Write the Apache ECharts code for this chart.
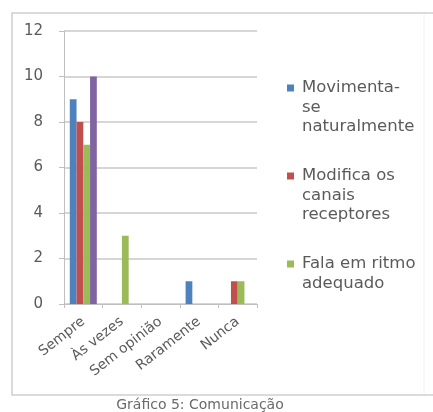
<!DOCTYPE html>
<html>
<head>
<meta charset="utf-8">
<script src="https://cdn.jsdelivr.net/npm/echarts@6/dist/echarts.min.js"></script>
<style>
  html, body { margin: 0; padding: 0; background: #fff; }
  #chart { width: 433px; height: 412px; }
</style>
</head>
<body>
<div id="chart"></div>
<script>
// categorias e valores
var categories = ['Sempre', 'Às vezes', 'Sem opinião', 'Raramente', 'Nunca'];
var seriesNames = ['Movimenta-se naturalmente', 'Modifica os canais receptores', 'Fala em ritmo adequado', 'Outro'];
var legendLines = [['Movimenta-', 'se', 'naturalmente'], ['Modifica os', 'canais', 'receptores'], ['Fala em ritmo', 'adequado']];
var movimenta = [9, 0, 0, 1, 0];
var modifica = [8, 0, 0, 0, 1];
var fala = [7, 3, 0, 0, 1];
var outro = [10, 0, 0, 0, 0];
var yTicks = [0, 2, 4, 6, 8, 10, 12];
var colors = ['#4F81BD', '#C0504D', '#9BBB59', '#8064A2'];

var txtColor = '#5a5a5a';
var font = 'DejaVu Sans';

var values = [movimenta, modifica, fala, outro];
var series = [];
for (var i = 0; i < values.length; i++) {
    series.push({
        name: seriesNames[i],
        type: 'bar',
        data: values[i],
        barGap: '0%',
        barCategoryGap: '30%',
        itemStyle: { color: colors[i] }
    });
}

// moldura (aberta à direita) + legenda desenhada à mão
var graphics = [{
    type: 'polyline',
    shape: { points: [[433, 13], [12, 13], [12, 395], [433, 395]] },
    style: { fill: 'none', stroke: '#cfcfcf', lineWidth: 1.5 }
}, {
    type: 'line',
    shape: { x1: 424, y1: 14, x2: 424, y2: 394 },
    style: { stroke: '#f2f2f2', lineWidth: 1 }
}, {
    type: 'text',
    x: 200, y: 405,
    style: { text: 'Gráfico 5: Comunicação', fill: '#6a6a6a', font: '14px "' + font + '"', align: 'center', verticalAlign: 'middle' }
}];
var legendTop = [88, 176, 264];
for (var j = 0; j < legendLines.length; j++) {
    graphics.push({
        type: 'rect',
        shape: { x: 287, y: legendTop[j] - 3.5, width: 7, height: 7 },
        style: { fill: colors[j] }
    });
    graphics.push({
        type: 'text',
        x: 302, y: legendTop[j] - 10,
        style: {
            text: legendLines[j].join('\n'),
            fill: txtColor,
            font: '16.5px "' + font + '"',
            lineHeight: 19.5,
            verticalAlign: 'top'
        }
    });
}

var option = {
    animation: false,
    backgroundColor: '#fff',
    grid: { left: 64, top: 31, right: 176, bottom: 108 },
    xAxis: {
        type: 'category',
        data: categories,
        axisLine: { lineStyle: { color: '#bfbfbf', width: 1 } },
        axisTick: { show: true, length: 4, lineStyle: { color: '#bfbfbf' } },
        axisLabel: {
            rotate: 38, interval: 0, margin: 16,
            color: txtColor, fontFamily: font, fontSize: 14
        }
    },
    yAxis: {
        type: 'value',
        min: yTicks[0], max: yTicks[yTicks.length - 1], interval: 2,
        axisLine: { show: true, lineStyle: { color: '#bfbfbf', width: 1 } },
        axisTick: { show: true, length: 5, lineStyle: { color: '#bfbfbf' } },
        axisLabel: { margin: 21, color: txtColor, fontFamily: font, fontSize: 15 },
        splitLine: { lineStyle: { color: '#c8c8c8', width: 1.5 } }
    },
    series: series,
    graphic: graphics
};

var myChart = echarts.init(document.getElementById('chart'));
myChart.setOption(option);
</script>
</body>
</html>
